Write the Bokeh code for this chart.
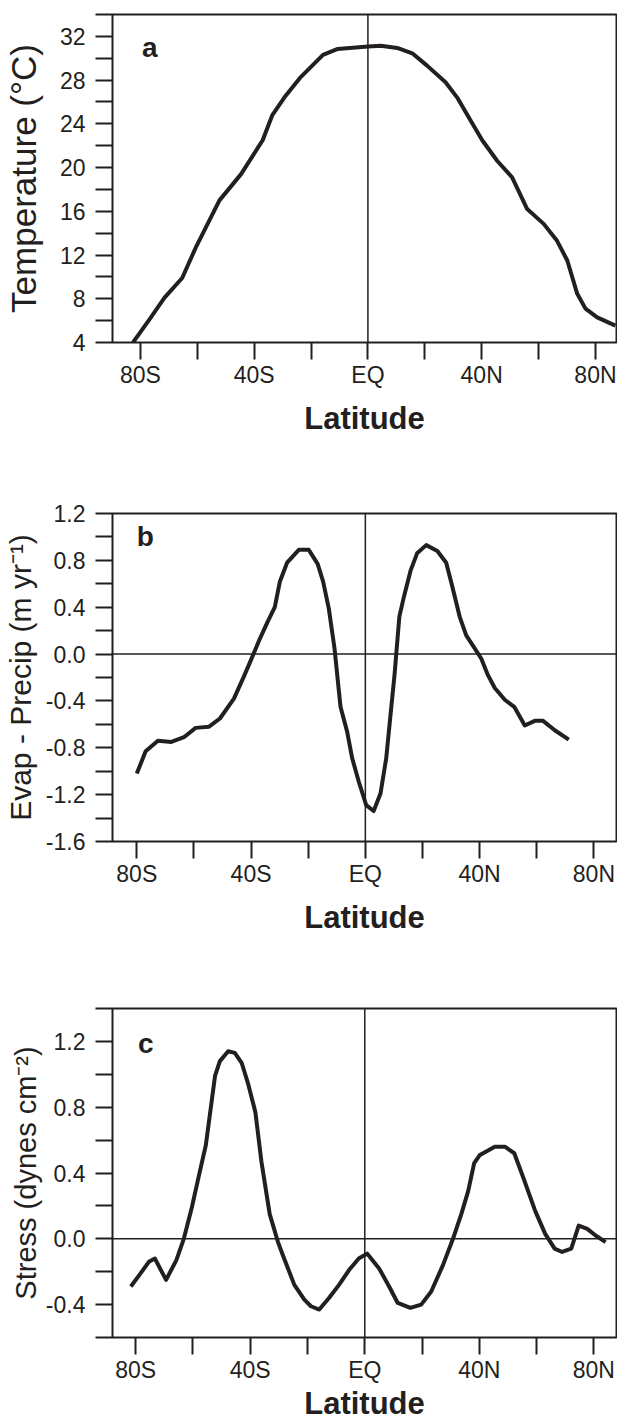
from bokeh.plotting import figure
from bokeh.layouts import column
from bokeh.models import Range1d, FixedTicker, CustomJSTickFormatter, Span, Label
from bokeh.embed import file_html
from bokeh.resources import INLINE

# ---------------- data ----------------
# Panel a: temperature (deg C) vs latitude
temp_lat = [-82.6, -77.1, -71.5, -65.3, -60.5, -52.2, -44.6, -37.0, -33.6, -29.4, -23.9,
            -15.8, -10.6, 0.0, 4.5, 10.3, 15.6, 20.9, 27.3, 31.4, 36.1, 40.2, 45.5, 50.7,
            56.0, 61.8, 66.5, 70.1, 73.6, 76.5, 80.6, 87.0]
temp_val = [4.0, 6.0, 8.1, 9.9, 12.7, 17.0, 19.4, 22.5, 24.8, 26.4, 28.2,
            30.3, 30.85, 31.07, 31.15, 30.94, 30.45, 29.3, 27.8, 26.4, 24.3, 22.5, 20.6, 19.1,
            16.2, 14.85, 13.3, 11.5, 8.45, 7.1, 6.3, 5.55]

# Panel b: evaporation - precipitation (m/yr)
ep_lat = [-80.0, -76.9, -72.6, -67.9, -63.5, -59.4, -54.7, -50.9, -46.0, -42.5, -40.2,
          -37.3, -34.3, -31.7, -29.9, -27.4, -23.3, -19.8, -16.7, -14.8, -12.8, -10.8,
          -8.7, -6.4, -4.6, -2.3, 0.3, 2.9, 5.3, 7.3, 8.8, 10.2, 11.9, 13.5, 15.8, 18.1,
          21.3, 25.2, 28.3, 30.3, 33.0, 35.3, 38.0, 40.6, 42.9, 45.3, 48.8, 52.1, 55.8,
          59.3, 62.2, 66.3, 71.2]
ep_val = [-1.02, -0.83, -0.74, -0.75, -0.71, -0.63, -0.62, -0.55, -0.38, -0.19, -0.06,
          0.11, 0.27, 0.40, 0.62, 0.78, 0.89, 0.89, 0.77, 0.62, 0.39, 0.05,
          -0.45, -0.66, -0.89, -1.09, -1.29, -1.34, -1.19, -0.89, -0.52, -0.18, 0.32, 0.49, 0.71, 0.86,
          0.93, 0.88, 0.78, 0.59, 0.32, 0.16, 0.06, -0.04, -0.18, -0.29, -0.39, -0.45, -0.61,
          -0.57, -0.57, -0.65, -0.73]

# Panel c: wind stress (dynes/cm2)
st_lat = [-81.7, -78.3, -75.4, -73.3, -69.4, -65.8, -63.2, -60.4, -58.1, -55.5, -52.3,
          -50.6, -47.7, -45.4, -43.0, -40.7, -38.2, -36.1, -33.2, -30.3, -28.6, -24.6,
          -21.1, -18.8, -15.9, -12.5, -9.0, -5.5, -2.1, 0.8, 5.0, 8.5, 11.5, 15.9, 19.7,
          23.2, 27.3, 30.8, 33.7, 36.1, 38.2, 40.2, 45.4, 48.9, 52.2, 55.4, 59.5, 63.0,
          66.3, 68.9, 72.1, 74.7, 77.7, 80.6, 84.1]
st_val = [-0.29, -0.21, -0.14, -0.12, -0.25, -0.13, 0.0, 0.19, 0.37, 0.57, 0.99,
          1.08, 1.14, 1.13, 1.07, 0.94, 0.77, 0.47, 0.15, -0.02, -0.10, -0.28,
          -0.37, -0.41, -0.43, -0.36, -0.28, -0.19, -0.12, -0.09, -0.18, -0.29, -0.39, -0.42, -0.40,
          -0.32, -0.16, 0.0, 0.15, 0.29, 0.46, 0.51, 0.56, 0.56, 0.52, 0.37, 0.17, 0.03,
          -0.06, -0.08, -0.06, 0.08, 0.06, 0.02, -0.02]

# ticks / labels
lat_ticks = [-80, -40, 0, 40, 80]
lat_labels = ["80S", "40S", "EQ", "40N", "80N"]
lat_minor = [-60, -20, 20, 60]

temp_ticks = [4, 8, 12, 16, 20, 24, 28, 32]
temp_minor = [6, 10, 14, 18, 22, 26, 30, 34]
ep_ticks = [-1.6, -1.2, -0.8, -0.4, 0.0, 0.4, 0.8, 1.2]
ep_minor = [-1.4, -1.0, -0.6, -0.2, 0.2, 0.6, 1.0]
st_ticks = [-0.4, 0.0, 0.4, 0.8, 1.2]
st_minor = [-0.6, -0.2, 0.2, 0.6, 1.0, 1.4]

INK = "#231f20"
FONT = "Liberation Sans"


def make_panel(xr, yr, yticks, yminor, ylabel, ydec, height, top, bottom, ylab_size,
               ylab_standoff, xlab_standoff):
    p = figure(width=617, height=height, x_range=Range1d(*xr), y_range=Range1d(*yr),
               output_backend="svg", toolbar_location=None,
               min_border_left=112, min_border_right=1,
               min_border_top=top, min_border_bottom=bottom)
    p.grid.visible = False
    p.outline_line_color = INK
    p.outline_line_width = 2
    p.outline_line_alpha = 1
    p.background_fill_color = "white"
    p.border_fill_color = "white"

    xa = p.xaxis[0]
    xa.ticker = FixedTicker(ticks=lat_ticks, minor_ticks=lat_minor)
    xa.formatter = CustomJSTickFormatter(args=dict(tv=lat_ticks, tl=lat_labels),
                                         code="const i = tv.indexOf(tick); return i >= 0 ? tl[i] : '';")
    xa.axis_label = "Latitude"
    xa.axis_label_text_font = FONT
    xa.axis_label_text_font_style = "bold"
    xa.axis_label_text_font_size = "31px"
    xa.axis_label_text_color = INK
    xa.axis_label_standoff = xlab_standoff

    ya = p.yaxis[0]
    ya.ticker = FixedTicker(ticks=yticks, minor_ticks=yminor)
    ya.formatter = CustomJSTickFormatter(code="return tick.toFixed(%d);" % ydec)
    ya.axis_label = ylabel
    ya.axis_label_text_font = FONT
    ya.axis_label_text_font_style = "normal"
    ya.axis_label_text_font_size = ylab_size
    ya.axis_label_text_color = INK
    ya.axis_label_standoff = ylab_standoff

    for ax in (xa, ya):
        ax.axis_line_color = None
        ax.major_tick_out = 17
        ax.major_tick_in = 0
        ax.minor_tick_out = 17
        ax.minor_tick_in = 0
        ax.major_tick_line_color = INK
        ax.minor_tick_line_color = INK
        ax.major_tick_line_width = 2
        ax.minor_tick_line_width = 2
        ax.major_label_text_font = FONT
        ax.major_label_text_font_size = "23px"
        ax.major_label_text_color = INK
    xa.major_label_standoff = 2
    ya.major_label_standoff = 10
    return p


# ---- panel a ----
pa = make_panel((-89.8, 87.4), (4, 34), temp_ticks, temp_minor, "Temperature (\u00b0C)", 0,
                452, 14, 110, "35px", 14, 10)
pa.add_layout(Span(location=0, dimension="height", line_color=INK, line_width=1.5))
pa.line(temp_lat, temp_val, line_color=INK, line_width=4, line_join="round")
pa.add_layout(Label(x=-79.4, y=31.0, text="a", text_font=FONT, text_font_style="bold",
                    text_font_size="28px", text_color=INK, text_baseline="alphabetic"))

# ---- panel b ----
pb = make_panel((-88.5, 87.9), (-1.6, 1.2), ep_ticks, ep_minor,
                "Evap - Precip (m yr\u207b\u00b9)", 1, 499, 61, 110, "30px", 6, 10)
pb.add_layout(Span(location=0, dimension="height", line_color=INK, line_width=1.5))
pb.add_layout(Span(location=0, dimension="width", line_color=INK, line_width=1.5))
pb.line(ep_lat, ep_val, line_color=INK, line_width=4, line_join="round")
pb.add_layout(Label(x=-80.0, y=1.0, text="b", text_font=FONT, text_font_style="bold",
                    text_font_size="28px", text_color=INK, text_baseline="alphabetic"))

# ---- panel c ----
pc = make_panel((-88.1, 87.9), (-0.6, 1.4), st_ticks, st_minor,
                "Stress (dynes cm\u207b\u00b2)", 1, 474, 57, 88, "29px", 1, 0)
pc.add_layout(Span(location=0, dimension="height", line_color=INK, line_width=1.5))
pc.add_layout(Span(location=0, dimension="width", line_color=INK, line_width=1.5))
pc.line(st_lat, st_val, line_color=INK, line_width=4, line_join="round")
pc.add_layout(Label(x=-79.2, y=1.19, text="c", text_font=FONT, text_font_style="bold",
                    text_font_size="28px", text_color=INK, text_baseline="alphabetic"))

layout = column(pa, pb, pc, spacing=0)
open("out.html", "w").write(file_html(layout, INLINE))
